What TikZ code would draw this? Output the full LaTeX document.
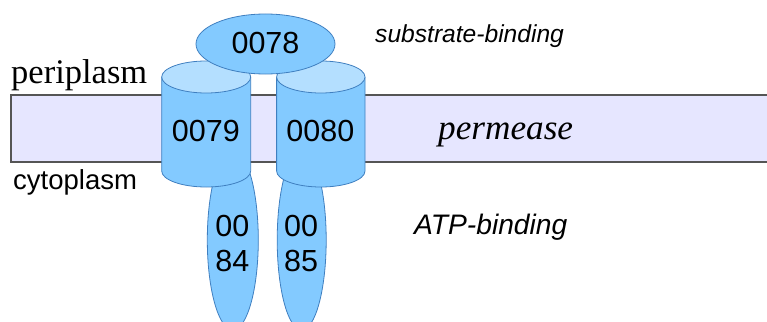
\documentclass[tikz,border=0pt]{standalone}
\usepackage{fontspec}
\setmainfont{Liberation Serif}
\setsansfont{Liberation Sans}
\definecolor{protfill}{HTML}{83CAFF}
\definecolor{protlight}{HTML}{B4DFFF}
\definecolor{protline}{HTML}{3F7FC0}
\definecolor{membfill}{HTML}{E6E6FF}
\definecolor{membline}{HTML}{555555}
\tikzset{
  prot/.style={fill=protfill, draw=protline, line width=0.8pt},
  protcap/.style={fill=protlight, draw=protline, line width=0.8pt},
  numlabel/.style={font=\sffamily\fontsize{30.5}{35}\selectfont, inner sep=0pt, align=center},
  serlabel/.style={font=\rmfamily\fontsize{34.5}{40}\selectfont, inner sep=0pt, anchor=base west},
  sanslabel/.style={font=\sffamily\fontsize{27.5}{30}\selectfont, inner sep=0pt, anchor=base west},
}
\begin{document}
\begin{tikzpicture}[x=1pt,y=-1pt]
\useasboundingbox (0,0) rectangle (767,321);
% membrane
\fill[membfill] (11,95) rectangle (770,162);
\draw[membline, line width=1.2pt] (770,95) -- (11,95) -- (11,162) -- (770,162);
\draw[membline, line width=0.4pt] (11,95) -- (11,162);
% lower ellipses (ATP-binding)
\begin{scope}
\clip (0,0) rectangle (767,321);
\draw[prot] (232.8,240) ellipse [x radius=25.5, y radius=90];
\draw[prot] (301.7,240) ellipse [x radius=24.5, y radius=90];
\end{scope}
% cylinders
\foreach \cx/\rx in {206.2/44.5, 320.8/44.2}{
  \fill[protfill] (\cx-\rx,77) -- (\cx-\rx,171) arc[start angle=180, end angle=0, x radius=\rx, y radius=16] -- (\cx+\rx,77) -- cycle;
  \draw[protline, line width=0.8pt] (\cx-\rx,77) -- (\cx-\rx,171) arc[start angle=180, end angle=0, x radius=\rx, y radius=16] -- (\cx+\rx,77);
  \draw[protcap] (\cx,77) ellipse [x radius=\rx, y radius=16];
}
% top ellipse
\draw[prot] (265.5,44) ellipse [x radius=69.5, y radius=30];
% labels
\node[numlabel] (p78) at (265.5,43) {0078};
\node[numlabel] (p79) at (205.8,131) {0079};
\node[numlabel] (p80) at (320.3,131) {0080};
\node[numlabel] (p84) at (232.3,243) {00\\84};
\node[numlabel] (p85) at (301,243) {00\\85};
\node[serlabel] (peri) at (11,83.5) {periplasm};
\node[serlabel, font=\rmfamily\itshape\fontsize{35.2}{40}\selectfont] (perm) at (438,139.3) {permease};
\node[sanslabel] (cyto) at (13,189.3) {cytoplasm};
\node[sanslabel, font=\sffamily\itshape\fontsize{24.6}{28}\selectfont] (sub) at (375,42.7) {substrate-binding};
\node[sanslabel, font=\sffamily\itshape\fontsize{28.2}{30}\selectfont] (atp) at (414,234.3) {ATP-binding};
\end{tikzpicture}
\end{document}
